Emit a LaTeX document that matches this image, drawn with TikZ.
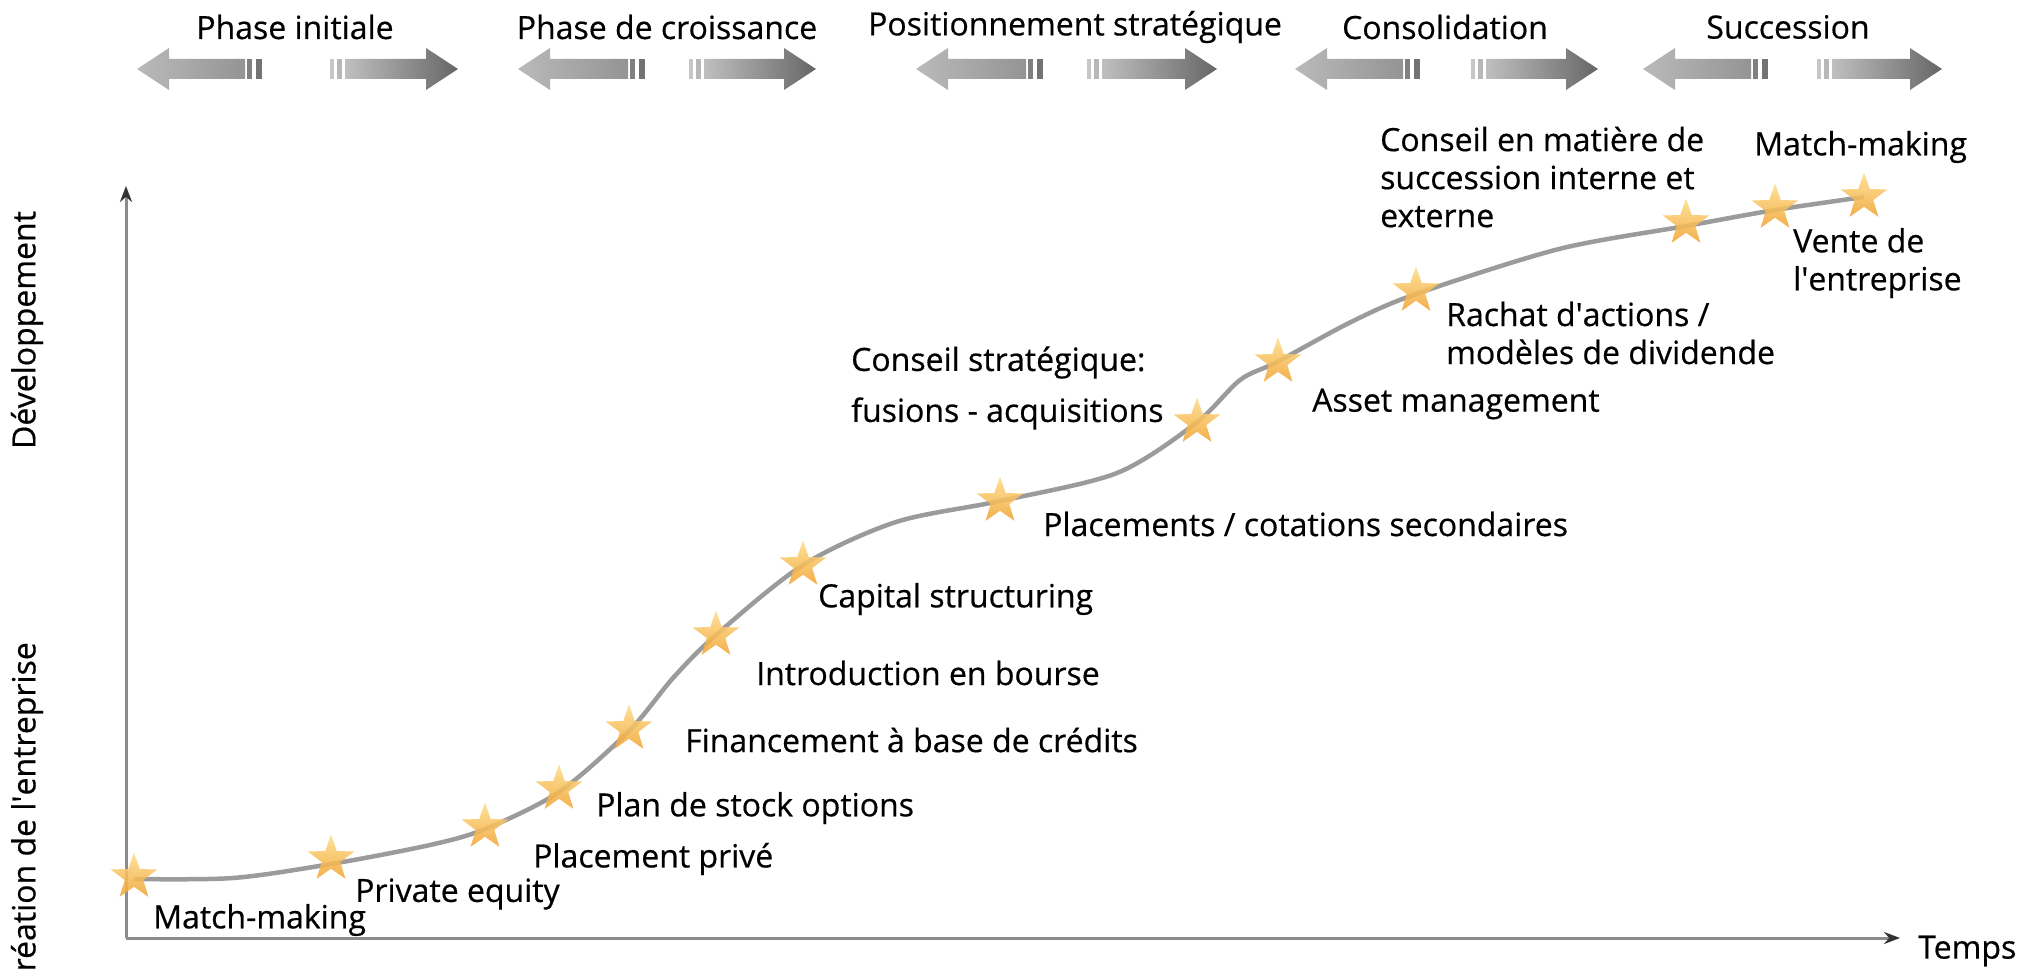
\documentclass[tikz,border=0pt]{standalone}
\usepackage{fontspec}
\setmainfont{Open Sans}[FakeBold=0.5]
\usetikzlibrary{shapes.geometric,arrows.meta}
\definecolor{starlight}{RGB}{253,222,140}
\definecolor{stardark}{RGB}{242,164,52}
\definecolor{curvegray}{RGB}{155,155,155}
\definecolor{axisgray}{RGB}{140,140,140}
\newcommand\PhaseArrows[5]{%
  \shade[left color=black!27,right color=black!42]
    (#1,#5) -- ({#1+32},{#5-21}) -- ({#1+32},{#5-10}) -- ({#2-17},{#5-10})
    -- ({#2-17},{#5+10}) -- ({#1+32},{#5+10}) -- ({#1+32},{#5+21}) -- cycle;
  \fill[black!50] ({#2-15},{#5-10}) rectangle ({#2-10},{#5+10});
  \fill[black!55] ({#2-6},{#5-10}) rectangle (#2,{#5+10});
  \fill[black!22] (#3,{#5-10}) rectangle ({#3+4},{#5+10});
  \fill[black!28] ({#3+7},{#5-10}) rectangle ({#3+12},{#5+10});
  \shade[left color=black!25,right color=black!60]
    ({#3+15},{#5-10}) -- ({#4-32},{#5-10}) -- ({#4-32},{#5-21}) -- (#4,#5)
    -- ({#4-32},{#5+21}) -- ({#4-32},{#5+10}) -- ({#3+15},{#5+10}) -- cycle;
}
\begin{document}
\begin{tikzpicture}[x=1pt,y=-1pt,
  every node/.style={font=\fontsize{32}{38}\selectfont, inner sep=0pt},
  lbl/.style={anchor=west, align=left, yshift=-3pt},
  phase/.style={anchor=center},
  vlabel/.style={rotate=90},
  starnode/.style={star, star points=5, star point ratio=2.5, minimum size=49pt,
    inner sep=0pt, top color=starlight, bottom color=stardark, draw=none, opacity=0.88},
  axisline/.style={draw=axisgray, line width=3pt, -{Stealth[length=16pt,width=12pt,color=black!80]}},
  curveline/.style={draw=curvegray, line width=4.5pt}]
\useasboundingbox (0,0) rectangle (2037,971);

% phase arrows
\PhaseArrows{137}{262}{330}{458}{69}
\PhaseArrows{518}{645}{689}{816}{69}
\PhaseArrows{916}{1043}{1087}{1217}{69}
\PhaseArrows{1295}{1420}{1471}{1598}{69}
\PhaseArrows{1643}{1768}{1817}{1942}{69}

\node[phase] (p1) at (295,27) {Phase initiale};
\node[phase] (p2) at (667,27) {Phase de croissance};
\node[phase] (p3) at (1075,27) {Positionnement stratégique};
\node[phase] (p4) at (1445,27) {Consolidation};
\node[phase] (p5) at (1788,27) {Succession};

% axes
\coordinate (O) at (126,938);
\coordinate (ytop) at (126,186);
\coordinate (xend) at (1900,938);
\draw[axisline] (O) -- (ytop);
\draw[axisline] (O) -- (xend);
\node[anchor=west] (temps) at (1918,951) {Temps};
\node[vlabel] (dev) at (27,330) {Développement};
\node[vlabel, anchor=east] (crea) at (27,642) {Création de l\textquotesingle entreprise};

% curve
\draw[curveline] plot[smooth, tension=0.5] coordinates {
 (134,879) (233,878) (331,864) (430,845) (485,829) (559,792) (629,731) (673,678) (716,635)
 (803,565) (896,522) (1000,501) (1117,473) (1196,423) (1240,380) (1277,362)
 (1351,322) (1416,294) (1559,249) (1686,226) (1775,210) (1864,197)};

% stars
\node[starnode] (s1) at (134,877) {};
\node[starnode] (s2) at (331,859) {};
\node[starnode] (s3) at (485,827) {};
\node[starnode] (s4) at (559,789) {};
\node[starnode] (s5) at (629,729) {};
\node[starnode] (s6) at (716,635) {};
\node[starnode] (s7) at (803,565) {};
\node[starnode] (s8) at (1000,501) {};
\node[starnode] (s9) at (1197,422) {};
\node[starnode] (s10) at (1278,362) {};
\node[starnode] (s11) at (1416,291) {};
\node[starnode] (s12) at (1686,223) {};
\node[starnode] (s13) at (1775,208) {};
\node[starnode] (s14) at (1864,197) {};

% labels
\node[lbl] (l1) at (153,917) {Match-making};
\node[lbl] (l2) at (355,891) {Private equity};
\node[lbl] (l3) at (533,856) {Placement privé};
\node[lbl] (l4) at (596,805) {Plan de stock options};
\node[lbl] (l5) at (685,737) {Financement à base de crédits};
\node[lbl] (l6) at (756,670) {Introduction en bourse};
\node[lbl] (l7) at (818,596) {Capital structuring};
\node[lbl] (l8) at (1043,521) {Placements / cotations secondaires};
\node[lbl] (l9) at (851,385) {Conseil stratégique:\\[13pt]fusions - acquisitions};
\node[lbl] (l10) at (1312,401) {Asset management};
\node[lbl] (l11) at (1446,330) {Rachat d\textquotesingle actions /\\modèles de dividende};
\node[lbl] (l12) at (1380,174) {Conseil en matière de\\succession interne et\\externe};
\node[lbl] (l13) at (1793,260) {Vente de\\l\textquotesingle entreprise};
\node[lbl] (l14) at (1754,144) {Match-making};
\end{tikzpicture}
\end{document}
